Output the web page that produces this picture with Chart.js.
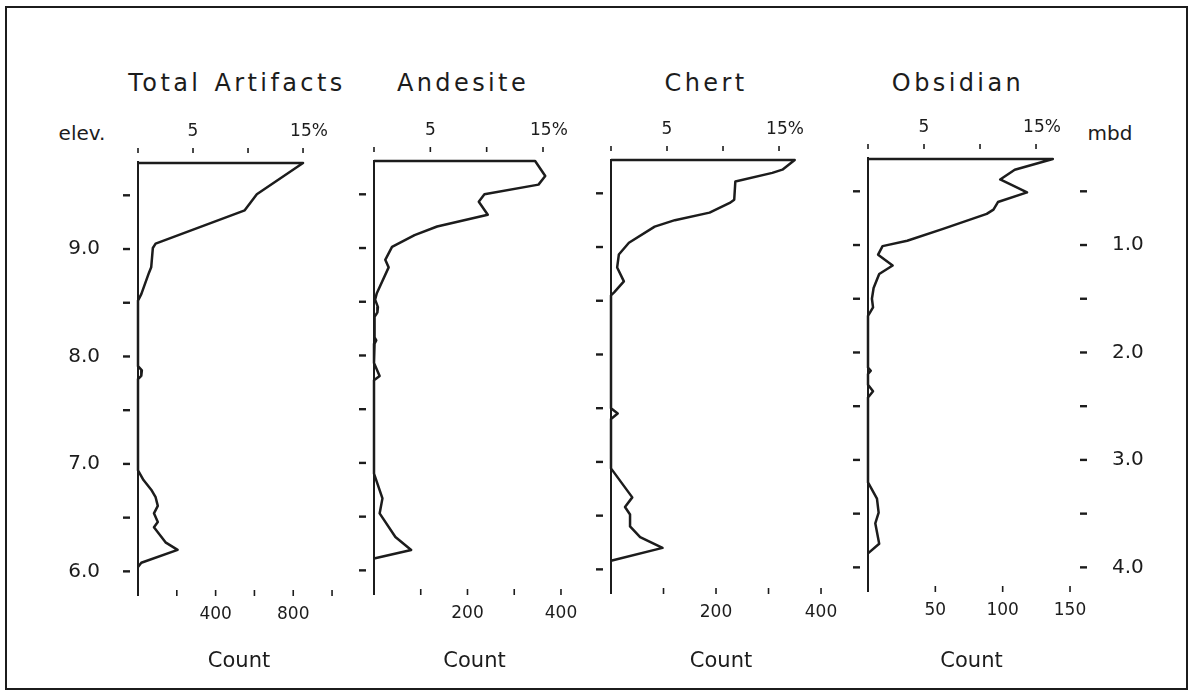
<!DOCTYPE html>
<html><head><meta charset="utf-8">
<script src="https://cdn.jsdelivr.net/npm/chart.js@4"></script>
<style>
html,body{margin:0;padding:0;background:#fff;}
body{width:1193px;height:696px;position:relative;overflow:hidden;font-family:'DejaVu Sans',sans-serif;color:#1c1c1c;}
.frame{position:absolute;left:5px;top:6px;width:1179px;height:680px;border:2px solid #1c1c1c;}
.t{position:absolute;white-space:nowrap;transform:translate(-50%,-50%);line-height:1;}
.ttl{font-size:24px;letter-spacing:3.4px;word-spacing:2px;}
canvas{position:absolute;}
</style></head><body>
<div class="frame"></div>
<div class="t ttl" style="left:237px;top:83px">Total Artifacts</div>
<div class="t ttl" style="left:463px;top:83px">Andesite</div>
<div class="t ttl" style="left:706px;top:83px">Chert</div>
<div class="t ttl" style="left:958px;top:83px">Obsidian</div>
<div class="t" style="left:82px;top:133px;font-size:20px">elev.</div>
<div class="t" style="left:1110px;top:133px;font-size:20px">mbd</div>
<canvas id="c1"></canvas><canvas id="c2"></canvas><canvas id="c3"></canvas><canvas id="c4"></canvas>
<script>
// ---- axis ticks ----
const elevTicks = [6.0, 6.5, 7.0, 7.5, 8.0, 8.5, 9.0, 9.5];
const elevTickLabels = ['6.0', '', '7.0', '', '8.0', '', '9.0', ''];
const mbdTicks = [0.5, 1.0, 1.5, 2.0, 2.5, 3.0, 3.5, 4.0];
const mbdTickLabels = ['', '1.0', '', '2.0', '', '3.0', '', '4.0'];
const pctTicks = [0, 5, 10, 15];
const pctTickLabels = ['', '5', '', '\u2002\u200915%'];
const totalCountTicks = [200, 400, 600, 800, 1000];
const totalCountLabels = ['', '400', '', '800', ''];
const andesiteCountTicks = [100, 200, 300, 400];
const andesiteCountLabels = ['', '200', '', '400'];
const chertCountTicks = [100, 200, 300, 400];
const chertCountLabels = ['', '200', '', '400'];
const obsidianCountTicks = [50, 100, 150];
const obsidianCountLabels = ['50', '100', '150'];

// ---- series: elevation (m) and percent of artifacts ----
const totalElev = [9.80, 9.80, 9.51, 9.36, 9.05, 9.01, 8.83, 8.78, 8.58, 8.52, 7.91, 7.87, 7.82, 7.79, 6.94, 6.85, 6.76, 6.69, 6.61, 6.54, 6.46, 6.41, 6.27, 6.20, 6.08, 6.04];
const totalPct  = [0, 15.0, 10.8, 9.7, 1.6, 1.35, 1.2, 1.0, 0.3, 0, 0, 0.35, 0.3, 0, 0, 0.5, 1.2, 1.6, 1.8, 1.45, 1.8, 1.45, 2.5, 3.6, 0.3, 0];

const andesiteElev = [9.81, 9.81, 9.67, 9.59, 9.50, 9.43, 9.31, 9.20, 9.12, 9.01, 8.92, 8.89, 8.82, 8.58, 8.52, 8.45, 8.40, 8.36, 8.17, 8.14, 8.11, 7.93, 7.81, 7.77, 6.90, 6.67, 6.53, 6.31, 6.19, 6.11];
const andesitePct  = [0, 14.3, 15.2, 14.6, 9.8, 9.3, 10.1, 5.6, 3.6, 1.6, 1.15, 1.0, 1.3, 0.25, 0.1, 0.35, 0.3, 0.05, 0.05, 0.2, 0.05, 0, 0.5, 0, 0, 0.75, 0.5, 1.9, 3.3, 0];

const chertElev = [9.81, 9.81, 9.72, 9.69, 9.61, 9.44, 9.41, 9.32, 9.25, 9.19, 9.04, 8.93, 8.81, 8.68, 8.58, 8.55, 7.50, 7.45, 7.40, 6.94, 6.67, 6.58, 6.51, 6.40, 6.30, 6.20, 6.08];
const chertPct  = [0, 16.4, 15.3, 14.4, 11.1, 11.0, 10.6, 8.8, 5.7, 3.9, 1.6, 0.7, 0.55, 1.15, 0.3, 0, 0, 0.6, 0, 0, 1.9, 1.25, 1.7, 1.7, 2.6, 4.6, 0];

const obsidianElev = [9.80, 9.80, 9.70, 9.61, 9.49, 9.40, 9.33, 9.29, 9.15, 9.04, 8.99, 8.91, 8.81, 8.73, 8.60, 8.50, 8.42, 8.34, 7.86, 7.83, 7.80, 7.70, 7.64, 7.58, 6.79, 6.64, 6.51, 6.41, 6.22, 6.13];
const obsidianPct  = [0, 16.5, 13.1, 11.8, 14.2, 11.6, 11.2, 10.6, 6.7, 3.5, 1.3, 0.9, 2.2, 1.0, 0.5, 0.35, 0.45, 0, 0, 0.25, 0, 0, 0.45, 0, 0, 0.8, 0.95, 0.65, 1.0, 0];

const ELEV_MIN = 5.78, ELEV_MAX = 9.81, SURFACE = 10.0;
const INK = '#1c1c1c';
const FONT = "'DejaVu Sans', sans-serif";

function labelFor(ticks, labels) {
  return (v) => { const i = ticks.findIndex(t => Math.abs(t - v) < 1e-9); return i < 0 ? '' : labels[i]; };
}
function marksPlugin(conf) {
  return {
    id: 'marks',
    afterDraw(chart) {
      const ctx = chart.ctx, a = chart.chartArea;
      ctx.save(); ctx.strokeStyle = INK; ctx.lineCap = 'butt';
      for (const id of Object.keys(conf)) {
        const s = chart.scales[id], m = conf[id]; if (!s) continue;
        ctx.lineWidth = m.w;
        for (const t of s.ticks) {
          const p = s.getPixelForValue(t.value);
          ctx.beginPath();
          if (s.position === 'left') { ctx.moveTo(a.left - m.gap, p); ctx.lineTo(a.left - m.gap - m.len, p); }
          else if (s.position === 'right') { ctx.moveTo(a.right + m.gap, p); ctx.lineTo(a.right + m.gap + m.len, p); }
          else if (s.position === 'top') { ctx.moveTo(p, a.top - m.gap); ctx.lineTo(p, a.top - m.gap - m.len); }
          else { ctx.moveTo(p, a.bottom + m.gap); ctx.lineTo(p, a.bottom + m.gap + m.len); }
          ctx.stroke();
        }
      }
      ctx.restore();
    }
  };
}

function panel(id, p) {
  const TH = 60, LW = p.lw, PH = 433, BOTTOM = 690;
  const top = p.chartTop - TH;
  const H = BOTTOM - top;
  const BH = H - TH - PH;
  const RW = p.mbd ? 110 : 10;
  const W = LW + p.plotW + RW;
  const cv = document.getElementById(id);
  cv.width = W; cv.height = H;
  cv.style.left = (p.chartLeft - LW) + 'px'; cv.style.top = top + 'px';
  cv.style.width = W + 'px'; cv.style.height = H + 'px';
  const fixH = (h) => (s) => { s.height = h; s.paddingLeft = 0; s.paddingRight = 0; };
  const fixW = (w) => (s) => { s.width = w; s.paddingTop = 0; s.paddingBottom = 0; };
  const scales = {
    x: {
      type: 'linear', position: 'top', min: 0, max: p.pctMax,
      afterBuildTicks: s => { s.ticks = pctTicks.map(v => ({ value: v })); },
      ticks: { callback: labelFor(pctTicks, pctTickLabels), padding: 20, color: INK, font: { family: FONT, size: 17 }, maxRotation: 0, autoSkip: false },
      grid: { display: false, drawTicks: false }, border: { display: false },
      afterFit: fixH(TH)
    },
    c: {
      type: 'linear', position: 'bottom', min: 0, max: p.cntMax,
      afterBuildTicks: s => { s.ticks = p.cntTicks.map(v => ({ value: v })); },
      ticks: { callback: labelFor(p.cntTicks, p.cntLabels), padding: 9, color: INK, font: { family: FONT, size: 17 }, maxRotation: 0, autoSkip: false },
      grid: { display: false, drawTicks: false }, border: { display: false },
      title: { display: true, text: 'Count', color: INK, font: { family: FONT, size: 21 }, padding: { top: 0, bottom: 16 } },
      afterFit: fixH(BH)
    },
    y: {
      type: 'linear', position: 'left', min: ELEV_MIN, max: ELEV_MAX,
      afterBuildTicks: s => { s.ticks = elevTicks.map(v => ({ value: v })); },
      ticks: { callback: p.elevLabels ? labelFor(elevTicks, elevTickLabels) : () => '', padding: 38, color: INK, font: { family: FONT, size: 20 }, autoSkip: false },
      grid: { display: false, drawTicks: false }, border: { display: true, color: INK, width: 2 },
      afterFit: fixW(LW)
    }
  };
  const marks = { x: { gap: 9, len: 5, w: 1.6 }, c: { gap: -5, len: 6, w: 1.6 }, y: { gap: 8, len: 7, w: 2.4 } };
  if (p.mbd) {
    scales.m = {
      type: 'linear', position: 'right', reverse: true, min: SURFACE - ELEV_MAX, max: SURFACE - ELEV_MIN,
      afterBuildTicks: s => { s.ticks = mbdTicks.map(v => ({ value: v })); },
      ticks: { callback: labelFor(mbdTicks, mbdTickLabels), padding: 37, color: INK, font: { family: FONT, size: 20 }, autoSkip: false },
      grid: { display: false, drawTicks: false }, border: { display: false },
      afterFit: fixW(RW)
    };
    marks.m = { gap: 5, len: 7, w: 2.4 };
  }
  new Chart(cv, {
    type: 'scatter',
    data: { datasets: [{
      label: p.name,
      data: p.elev.map((e, i) => ({ x: p.pct[i], y: e })),
      showLine: true, borderColor: INK, borderWidth: 2.5, pointRadius: 0, pointHoverRadius: 0,
      tension: 0, clip: false, xAxisID: 'x', yAxisID: 'y', borderJoinStyle: 'round'
    }] },
    options: {
      responsive: false, animation: false, events: [], devicePixelRatio: 1,
      layout: { padding: { left: 0, top: 0, bottom: 0, right: p.mbd ? 0 : RW } },
      plugins: { legend: { display: false }, tooltip: { enabled: false } },
      scales
    },
    plugins: [marksPlugin(marks)]
  });
}

panel('c1', { name: 'Total Artifacts', elev: totalElev, pct: totalPct, chartLeft: 138, chartTop: 162, plotW: 202, lw: 90,
  pctMax: 18.36, cntMax: 1041, cntTicks: totalCountTicks, cntLabels: totalCountLabels, elevLabels: true });
panel('c2', { name: 'Andesite', elev: andesiteElev, pct: andesitePct, chartLeft: 374, chartTop: 161, plotW: 201, lw: 28,
  pctMax: 17.84, cntMax: 430, cntTicks: andesiteCountTicks, cntLabels: andesiteCountLabels });
panel('c3', { name: 'Chert', elev: chertElev, pct: chertPct, chartLeft: 611, chartTop: 160, plotW: 220, lw: 28,
  pctMax: 19.64, cntMax: 419, cntTicks: chertCountTicks, cntLabels: chertCountLabels });
panel('c4', { name: 'Obsidian', elev: obsidianElev, pct: obsidianPct, chartLeft: 868, chartTop: 158, plotW: 207, lw: 28,
  pctMax: 18.48, cntMax: 153.7, cntTicks: obsidianCountTicks, cntLabels: obsidianCountLabels, mbd: true });
</script>
</body></html>
